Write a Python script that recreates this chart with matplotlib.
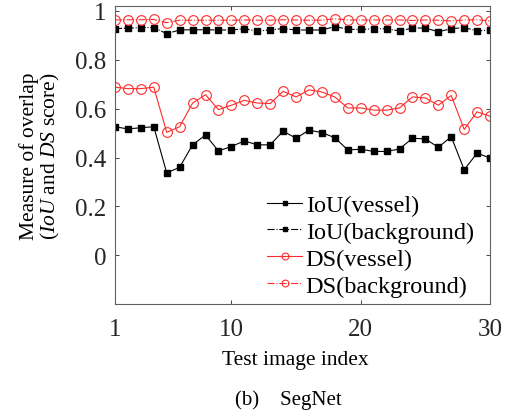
import matplotlib
matplotlib.use("Agg")
import matplotlib.pyplot as plt
import numpy as np

plt.rcParams['font.family'] = ['Liberation Serif', 'DejaVu Serif']
plt.rcParams['mathtext.fontset'] = 'custom'
plt.rcParams['mathtext.rm'] = 'Liberation Serif'
plt.rcParams['mathtext.it'] = 'Liberation Serif:italic'

# test image index 1..30
idx = list(range(1, 31))

iou_vessel = [0.526, 0.517, 0.522, 0.526, 0.337, 0.360, 0.452, 0.492, 0.427, 0.445,
              0.468, 0.452, 0.452, 0.508, 0.479, 0.512, 0.502, 0.481, 0.431, 0.434,
              0.425, 0.425, 0.435, 0.479, 0.476, 0.442, 0.485, 0.350, 0.418, 0.398]
iou_background = [0.928, 0.929, 0.932, 0.932, 0.907, 0.922, 0.923, 0.923, 0.922, 0.922,
                  0.927, 0.918, 0.922, 0.928, 0.922, 0.922, 0.922, 0.936, 0.925, 0.924,
                  0.927, 0.927, 0.918, 0.930, 0.930, 0.915, 0.927, 0.932, 0.918, 0.922]
ds_vessel = [0.688, 0.682, 0.682, 0.688, 0.503, 0.526, 0.623, 0.657, 0.596, 0.614,
             0.634, 0.623, 0.621, 0.671, 0.648, 0.677, 0.668, 0.648, 0.603, 0.603,
             0.594, 0.594, 0.603, 0.648, 0.644, 0.614, 0.654, 0.515, 0.587, 0.569]
ds_background = [0.963, 0.964, 0.964, 0.965, 0.952, 0.962, 0.962, 0.962, 0.962, 0.962,
                 0.963, 0.962, 0.962, 0.964, 0.963, 0.962, 0.962, 0.968, 0.963, 0.963,
                 0.963, 0.963, 0.963, 0.961, 0.963, 0.962, 0.959, 0.963, 0.964, 0.959]

fig = plt.figure(figsize=(5.11, 4.14), dpi=100)
ax = fig.add_axes([0.225, 0.263, 0.734, 0.720])

red = '#ff2a2a'
ax.plot(idx, iou_vessel, '-', color='black', lw=0.8, marker='s', ms=4,
        label='IoU(vessel)')
ax.plot(idx, iou_background, '-.', color='black', lw=0.8, marker='s', ms=4,
        label='IoU(background)')
ax.plot(idx, ds_vessel, '-', color=red, lw=0.8, marker='o', ms=7,
        mfc='none', mew=0.8, label='DS(vessel)')
ax.plot(idx, ds_background, '-.', color=red, lw=0.8, marker='o', ms=7,
        mfc='none', mew=0.8, label='DS(background)')

ax.set_xlim(1, 30)
ax.set_ylim(-0.2, 1.02)
ax.set_xticks([1, 10, 20, 30])
ax.set_yticks([0, 0.2, 0.4, 0.6, 0.8, 1])
ax.set_yticklabels(['0', '0.2', '0.4', '0.6', '0.8', '1'])
ax.tick_params(direction='in', top=True, right=True, labelsize=18,
               colors='#262626', length=3, width=0.6)
ax.tick_params(axis='x', pad=10)
ax.tick_params(axis='y', pad=6)
for s in ax.spines.values():
    s.set_color('#606060')
    s.set_linewidth(0.8)

ax.set_xlabel('Test image index', fontsize=15.5)
ax.xaxis.set_label_coords(0.48, -0.155)
ax.set_ylabel('Measure of overlap\n($\\mathit{IoU}$ and $\\mathit{DS}$ score)',
              fontsize=15.5, linespacing=1.05)
ax.yaxis.set_label_coords(-0.14, 0.5)

leg = ax.legend(loc='lower left', bbox_to_anchor=(0.405, 0.025), frameon=False,
                fontsize=17.5, handlelength=1.45, handletextpad=0.15,
                labelspacing=0.2, borderpad=0, borderaxespad=0, markerscale=0.7)

fig.text(0.565, 0.034, '(b)    SegNet', ha='center', va='center', fontsize=15)

fig.savefig('out.png', dpi=100)
